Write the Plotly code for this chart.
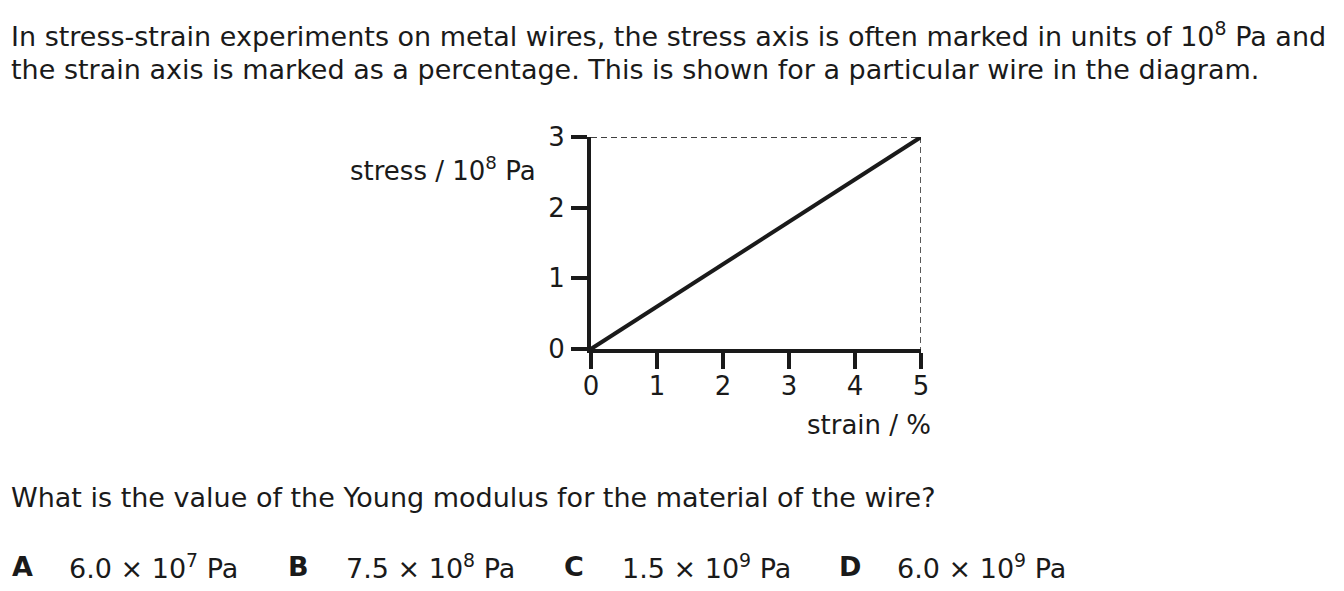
import plotly.graph_objects as go

strain = [0, 5]
stress = [0, 3]
guide_x = [0, 5, 5]
guide_y = [3, 3, 0]
x_ticks = [0, 1, 2, 3, 4, 5]
y_ticks = [0, 1, 2, 3]

OFF = 8                      # page body margin
W, H = 1344 - 2 * OFF, 591 - 2 * OFF
FONT = "'DejaVu Sans', sans-serif"
INK = "#1a1a1a"

def px(p):
    return (p - OFF) / W

def py(p):
    return 1 - (p - OFF) / H

fig = go.Figure()
fig.add_trace(go.Scatter(x=guide_x, y=guide_y, mode="lines",
                         line=dict(color="#000000", width=1.3, dash="6px,4px"),
                         hoverinfo="skip", showlegend=False))
fig.add_trace(go.Scatter(x=strain, y=stress, mode="lines",
                         line=dict(color=INK, width=4),
                         showlegend=False))

x0, x1 = 591, 921
y0, y1 = 349, 137
axis_common = dict(showgrid=False, zeroline=False, showline=True, linewidth=4,
                   linecolor=INK, ticks="outside", ticklen=16, tickwidth=3.5,
                   tickcolor=INK, tickfont=dict(size=26, color=INK),
                   automargin=False, fixedrange=True)
fig.update_layout(
    template="none",
    width=W, height=H,
    margin=dict(l=0, r=0, t=0, b=0, pad=0, autoexpand=False),
    paper_bgcolor="white", plot_bgcolor="white",
    font=dict(family=FONT, color=INK, size=22),
    xaxis=dict(domain=[px(x0), px(x1)], range=[0, 5], tickvals=x_ticks,
               ticklabelstandoff=-5, **axis_common),
    yaxis=dict(domain=[py(y0), py(y1)], range=[0, 3], tickvals=y_ticks,
               ticklabelstandoff=1, **axis_common),
)

def txt(x, y, s, size=27, xanchor="left"):
    fig.add_annotation(x=px(x), y=py(y), xref="paper", yref="paper",
                       text=s, showarrow=False, xanchor=xanchor, yanchor="middle",
                       borderpad=0,
                       font=dict(size=size, family=FONT, color=INK))

txt(10, 34, "In stress-strain experiments on metal wires, the stress axis is often marked in units of 10<sup>8</sup> Pa and")
txt(10, 69, "the strain axis is marked as a percentage. This is shown for a particular wire in the diagram.")
txt(537, 169, "stress / 10<sup>8</sup> Pa", size=26, xanchor="right")
txt(932, 425, "strain / %", size=26, xanchor="right")
txt(10, 497, "What is the value of the Young modulus for the material of the wire?")

opt_letters = ["A", "B", "C", "D"]
opt_values = ["6.0 × 10<sup>7</sup> Pa", "7.5 × 10<sup>8</sup> Pa",
              "1.5 × 10<sup>9</sup> Pa", "6.0 × 10<sup>9</sup> Pa"]
letter_x = [11, 287, 563, 838]
value_x = [68, 345, 621, 896]
for letter, val, lx, vx in zip(opt_letters, opt_values, letter_x, value_x):
    txt(lx, 566, "<b>" + letter + "</b>")
    txt(vx, 566, val)

fig.write_html("out.html", config={"displayModeBar": False})
